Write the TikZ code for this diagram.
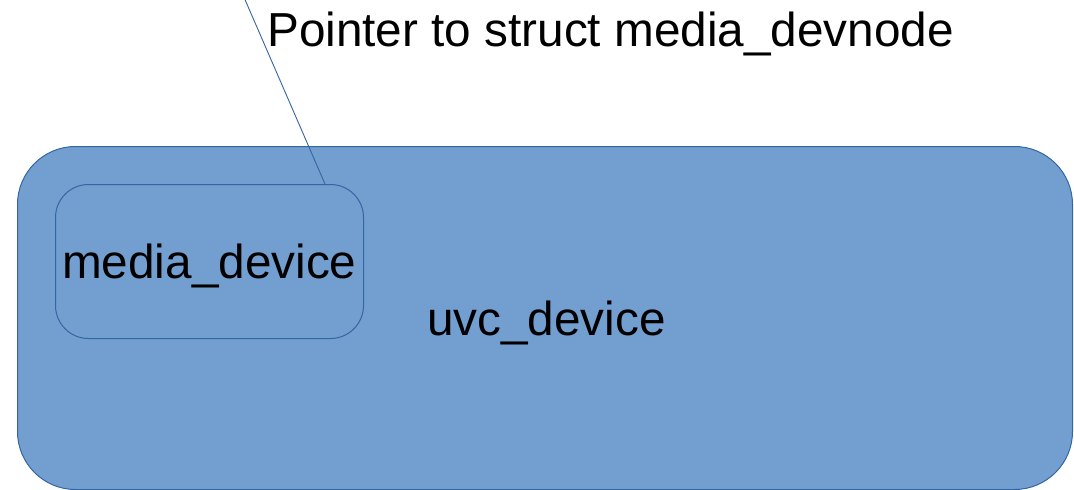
\documentclass[tikz,border=0pt]{standalone}
\usepackage{fontspec}
\setmainfont{Liberation Sans}
\definecolor{boxfill}{HTML}{729FCF}
\definecolor{boxline}{HTML}{3465A4}
\begin{document}
\begin{tikzpicture}[x=1pt,y=-1pt,
  box/.style={draw=boxline, fill=boxfill, line width=1pt, inner sep=0pt, anchor=north west},
  label/.style={font=\fontsize{47.7}{56}\selectfont, text=black, inner sep=0pt, anchor=base west},
  ptrline/.style={draw=boxline, line width=0.9pt}]
\useasboundingbox (0,0) rectangle (1074,490);
\node[box, rounded corners=58pt, minimum width=1055pt, minimum height=343pt] (uvc) at (17,146) {};
\node[box, rounded corners=33pt, minimum width=308pt, minimum height=154pt] (media) at (55,184) {};
\node[label] (uvclabel) at (427,335) {uvc\_device};
\node[label] (medialabel) at (62,278) {media\_device};
\node[label] (ptrlabel) at (267,46) {Pointer to struct media\_devnode};
\coordinate (ptrend) at (243,-5);
\coordinate (attach) at (325,184);
\draw[ptrline] (ptrend) -- (attach);
\end{tikzpicture}
\end{document}
